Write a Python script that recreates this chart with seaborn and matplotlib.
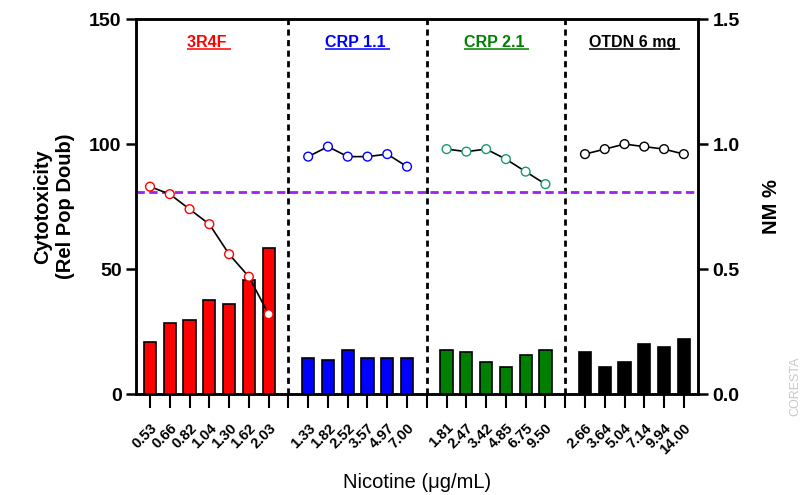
import numpy as np
import pandas as pd
import matplotlib
matplotlib.use("Agg")
import matplotlib.pyplot as plt
import seaborn as sns

sns.set_style("white")
plt.rcParams['font.family'] = ['Liberation Sans', 'DejaVu Sans']
plt.rcParams['text.color'] = 'black'
plt.rcParams['axes.labelcolor'] = 'black'
plt.rcParams['xtick.color'] = 'black'
plt.rcParams['ytick.color'] = 'black'
plt.rcParams['axes.edgecolor'] = 'black'

# Data
groups = ["3R4F", "CRP 1.1", "CRP 2.1", "OTDN 6 mg"]
group_colors = ["#ff0000", "#0000ff", "#008000", "#000000"]
marker_edges = ["#ff0000", "#0000ff", "#1a9a6a", "#000000"]

nicotine_3r4f = ["0.53", "0.66", "0.82", "1.04", "1.30", "1.62", "2.03"]
nicotine_crp11 = ["1.33", "1.82", "2.52", "3.57", "4.97", "7.00"]
nicotine_crp21 = ["1.81", "2.47", "3.42", "4.85", "6.75", "9.50"]
nicotine_otdn = ["2.66", "3.64", "5.04", "7.14", "9.94", "14.00"]

cyto_3r4f = [20.8, 28.6, 29.7, 37.7, 35.9, 45.7, 58.5]
cyto_crp11 = [14.7, 13.7, 17.7, 14.7, 14.7, 14.7]
cyto_crp21 = [17.7, 16.8, 12.8, 10.8, 15.7, 17.7]
cyto_otdn = [17.0, 11.0, 13.0, 20.1, 19.0, 22.1]

nm_3r4f = [0.83, 0.80, 0.74, 0.68, 0.56, 0.47, 0.32]
nm_crp11 = [0.95, 0.99, 0.95, 0.95, 0.96, 0.91]
nm_crp21 = [0.98, 0.97, 0.98, 0.94, 0.89, 0.84]
nm_otdn = [0.96, 0.98, 1.00, 0.99, 0.98, 0.96]

nm_threshold = 0.81

# Build table: one empty slot between groups
rows = []
tick_labels = []
pos = 0
for g, nic, cy, nm in zip(groups,
                          [nicotine_3r4f, nicotine_crp11, nicotine_crp21, nicotine_otdn],
                          [cyto_3r4f, cyto_crp11, cyto_crp21, cyto_otdn],
                          [nm_3r4f, nm_crp11, nm_crp21, nm_otdn]):
    for n, c, m in zip(nic, cy, nm):
        rows.append(dict(group=g, pos=pos, nicotine=n, cyto=c, nm=m))
        tick_labels.append(n)
        pos += 1
    if g != groups[-1]:
        tick_labels.append("")
        pos += 1
df = pd.DataFrame(rows)
separators = [i for i, t in enumerate(tick_labels) if t == ""]

fig = plt.figure(figsize=(8.01, 4.95), dpi=100)
ax = fig.add_axes([0.170, 0.2034, 0.701, 0.7582])

sns.barplot(data=df, x="pos", y="cyto", hue="group", hue_order=groups,
            palette=dict(zip(groups, group_colors)), native_scale=True,
            dodge=False, width=0.62, saturation=1, edgecolor="black",
            linewidth=1.2, legend=False, ax=ax)

for s in separators:
    ax.axvline(s, color="black", linestyle=(0, (2.2, 1.6)), linewidth=2, zorder=1)

ax.set_xlim(-0.7, len(tick_labels) - 0.3)
ax.set_ylim(0, 150)
ax.set_yticks([0, 50, 100, 150])
ax.set_xticks(range(len(tick_labels)))
ax.set_xticklabels(tick_labels, rotation=45, ha="right", rotation_mode="anchor",
                   fontsize=10.5, fontweight="bold")
ax.tick_params(axis="x", direction="out", length=10, width=1.5, bottom=True, pad=9)
ax.tick_params(axis="y", direction="out", length=7, width=1.8, left=True, labelsize=14)
for lab in ax.get_yticklabels():
    lab.set_fontweight("bold")
ax.set_xlabel("Nicotine (\u03bcg/mL)", fontsize=14.5, labelpad=12)
ax.set_ylabel("Cytotoxicity\n(Rel Pop Doub)", fontsize=14.5, fontweight="bold",
              labelpad=10, linespacing=1.3)
for sp in ax.spines.values():
    sp.set_linewidth(1.8)
    sp.set_visible(True)

# Right axis: NM %
ax2 = ax.twinx()
ax2.axhline(nm_threshold, color="#a020f0", linestyle=(0, (3, 1.6)), linewidth=2, zorder=1)
sns.lineplot(data=df, x="pos", y="nm", units="group", estimator=None,
             color="black", linewidth=1.2, ax=ax2, zorder=2)
sns.scatterplot(data=df, x="pos", y="nm", hue="group", hue_order=groups,
                palette=dict(zip(groups, marker_edges)), ax=ax2, legend=False,
                s=40, zorder=3)
coll = ax2.collections[-1]
coll.set_edgecolors(coll.get_facecolors())
coll.set_facecolor("white")
coll.set_linewidth(1.0)

ax2.set_ylim(0, 1.5)
ax2.set_yticks([0, 0.5, 1.0, 1.5])
ax2.set_yticklabels(["0.0", "0.5", "1.0", "1.5"], fontsize=14, fontweight="bold")
ax2.tick_params(axis="y", direction="out", length=7, width=1.8, right=True)
ax2.set_ylabel("NM %", fontsize=14.5, fontweight="bold", rotation=90, labelpad=16)
ax2.set_xlim(ax.get_xlim())
for sp in ax2.spines.values():
    sp.set_linewidth(1.8)

# Group titles (underlined)
starts = [0] + [s + 1 for s in separators]
ends = separators + [len(tick_labels)]
fig.canvas.draw()
renderer = fig.canvas.get_renderer()
for g, col, a, b in zip(groups, group_colors, starts, ends):
    cx = (a + b - 1) / 2
    t = ax.text(cx, 140.5, g + " ", color=col, fontsize=11.5, fontweight="bold",
                ha="center", va="center")
    bb = t.get_window_extent(renderer).transformed(ax.transData.inverted())
    ax.plot([bb.x0, bb.x1], [bb.y0 + 0.6, bb.y0 + 0.6], color=col, linewidth=1.1,
            solid_capstyle="butt")

# faint watermark at right edge
fig.text(0.993, 0.16, "CORESTA", rotation=90, color="#c8c8c8", fontsize=9,
         ha="center", va="bottom")

fig.savefig("out.png", dpi=100)
